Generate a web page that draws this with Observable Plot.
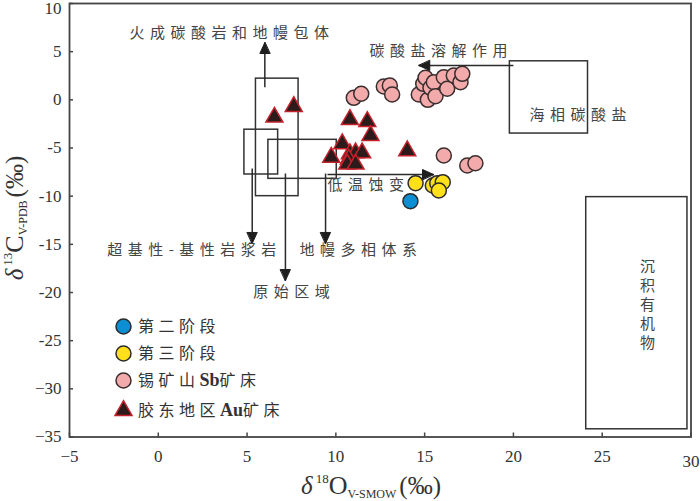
<!DOCTYPE html>
<html><head><meta charset="utf-8">
<script src="https://cdn.jsdelivr.net/npm/d3@7"></script>
<script src="https://cdn.jsdelivr.net/npm/@observablehq/plot@0.6"></script>
<style>body{margin:0;background:#fff} #chart{position:relative;width:700px;height:501px}</style>
</head><body><div id="chart"></div>
<script>
// ---- tick values / labels ----
const xTicks = [-5, 0, 5, 10, 15, 20, 25, 30];
const yTicks = [-35, -30, -25, -20, -15, -10, -5, 0, 5, 10];
const yTickLabels = ["\u221235", "\u221230", "-25", "-20", "-15", "-10", "-5", "0", "5", "10"];

// ---- data series (δ18O, δ13C) ----
const stage2X = [14.20];
const stage2Y = [-10.52];
const stage3X = [14.49, 15.46, 15.71, 16.02, 15.80];
const stage3Y = [-8.65, -8.89, -8.65, -8.55, -9.41];
const sbX = [11.01, 11.43, 12.70, 13.04, 13.17, 14.67, 14.92, 15.05, 15.18, 15.33, 15.52, 15.61, 16.08, 16.27, 16.64, 17.02, 17.12, 16.08, 17.40, 17.86];
const sbY = [0.21, 0.63, 1.38, 1.49, 0.55, 0.55, 1.66, 2.29, 0.00, 1.25, 1.83, 0.38, 2.35, 1.15, 2.53, 1.83, 2.70, -5.78, -6.82, -6.58];
const auX = [6.54, 7.63, 10.79, 11.77, 11.95, 10.36, 9.74, 10.79, 11.11, 11.48, 10.73, 10.64, 11.11, 14.02];
const auY = [-1.80, -0.69, -2.04, -2.25, -3.70, -4.56, -5.96, -5.60, -5.50, -5.50, -6.16, -6.68, -6.68, -5.29];

// ---- source-field boxes ----
const boxes = [
  {name: "火成碳酸岩和地幔包体", x1: 5.5, x2: 7.9, y1: -10.0, y2: 2.2},
  {name: "超基性-基性岩浆岩", x1: 4.85, x2: 6.75, y1: -7.75, y2: -3.1},
  {name: "原始区域/地幔多相体系", x1: 6.2, x2: 10.05, y1: -8.2, y2: -4.15},
  {name: "海相碳酸盐", x1: 19.8, x2: 24.2, y1: -3.5, y2: 4.0},
  {name: "沉积有机物", x1: 24.1, x2: 29.8, y1: -34.2, y2: -10.1}
];
// ---- arrows ----
const arrows = [
  {x1: 6.0, y1: 1.3, x2: 6.0, y2: 5.95},
  {x1: 5.29, y1: -7.13, x2: 5.29, y2: -14.91},
  {x1: 7.16, y1: -7.65, x2: 7.16, y2: -18.76},
  {x1: 9.42, y1: -7.65, x2: 9.42, y2: -14.91},
  {x1: 9.53, y1: -7.75, x2: 15.5, y2: -7.75},
  {x1: 20.0, y1: 3.56, x2: 14.67, y2: 3.56}
];
// ---- annotation labels ----
const labels = [
  {text: "火成碳酸岩和地幔包体", x: -1.62, y: 6.87},
  {text: "碳酸盐溶解作用", x: 11.89, y: 5.07},
  {text: "海相碳酸盐", x: 20.9, y: -1.57},
  {text: "低温蚀变", x: 9.53, y: -8.89},
  {text: "超基性-基性岩浆岩", x: -2.88, y: -15.64},
  {text: "地幔多相体系", x: 7.95, y: -15.64},
  {text: "原始区域", x: 5.35, y: -20.0}
];
const vertLabel = [{text: "沉\n积\n有\n机\n物", x: 27.55, y: -21.2}];

// ---- legend ----
const legendNames = ["第二阶段", "第三阶段", "锡矿山Sb矿床", "胶东地区Au矿床"];
const legendSymbols = ["circle", "circle", "circle", "triangle"];
const legendFills = ["#0b8fd2", "#ffe01a", "#f2aaab", "#2d1b1b"];
const legendStrokes = ["#2b2b2b", "#2b2b2b", "#3a2e2e", "#c4212b"];

const zip = (xs, ys) => xs.map((x, i) => ({x, y: ys[i]}));
const headShape = {draw(ctx, l) { ctx.moveTo(0, -l); ctx.lineTo(-5, 0); ctx.lineTo(5, 0); ctx.closePath(); }};
const rowY = i => 326 + i * 27 + (i === 3 ? 3 : 0);
const SERIF = "Liberation Serif";
const CJK = "Noto Sans CJK SC";

const legendMarks = legendNames.map((n, i) =>
  Plot.dot([n], {x: null, y: null, frameAnchor: "top-left", dx: 54, dy: rowY(i) - 3,
    symbol: legendSymbols[i], r: legendSymbols[i] === "triangle" ? 6.3 : 7.5,
    fill: legendFills[i], stroke: legendStrokes[i], strokeWidth: 1.5})
);

const svg = Plot.plot({
  width: 700, height: 501,
  marginLeft: 69, marginRight: 9.5, marginTop: 3, marginBottom: 64.5,
  x: {domain: [-5, 30]},
  y: {domain: [-35, 10]},
  style: {fontFamily: SERIF, fontSize: "17px", color: "#333", background: "white", overflow: "visible"},
  marks: [
    Plot.rect(boxes, {x1: "x1", x2: "x2", y1: "y1", y2: "y2", fill: "none", stroke: "#333", strokeWidth: 1.5}),
    Plot.link(arrows, {x1: "x1", y1: "y1", x2: "x2", y2: "y2", stroke: "#2a2a2a", strokeWidth: 1.5}),
    Plot.vector(arrows, {x: "x2", y: "y2", length: 11, anchor: "end", shape: headShape,
      rotate: d => d.x2 > d.x1 ? 90 : d.x2 < d.x1 ? -90 : d.y2 > d.y1 ? 0 : 180,
      fill: "#1e1e1e", stroke: "#1e1e1e", strokeWidth: 1}),
    Plot.text(labels, {x: "x", y: "y", text: "text", textAnchor: "start", lineAnchor: "middle",
      fontSize: 15, fill: "#444", fontFamily: CJK}),
    Plot.text(vertLabel, {x: "x", y: "y", text: "text", textAnchor: "middle", lineAnchor: "middle",
      lineHeight: 1.27, fontSize: 15, fill: "#444", fontFamily: CJK}),
    Plot.dot(zip(sbX, sbY), {x: "x", y: "y", r: 7.5, fill: "#f2aaab", stroke: "#3a2e2e", strokeWidth: 1.5}),
    Plot.dot(zip(auX, auY), {x: "x", y: "y", symbol: "triangle", r: 6.3, fill: "#2d1b1b", stroke: "#c4212b", strokeWidth: 1.5}),
    Plot.dot(zip(stage3X, stage3Y), {x: "x", y: "y", r: 7.5, fill: "#ffe01a", stroke: "#2b2b2b", strokeWidth: 1.5}),
    Plot.dot(zip(stage2X, stage2Y), {x: "x", y: "y", r: 7.5, fill: "#0b8fd2", stroke: "#2b2b2b", strokeWidth: 1.5}),
    ...legendMarks,
    Plot.frame({stroke: "#444", strokeWidth: 1.8}),
    Plot.axisX({ticks: xTicks, tickSize: -4, tickPadding: 17, label: null, fontSize: 17, fontFamily: SERIF, fill: "#333", stroke: "#444", strokeWidth: 1.5}),
    Plot.axisY({ticks: yTicks, tickSize: -4, tickPadding: 12, label: null, fontSize: 17, fontFamily: SERIF, fill: "#333", stroke: "#444", strokeWidth: 1.5,
      tickFormat: d => yTickLabels[yTicks.indexOf(d)]})
  ]
});
document.getElementById("chart").appendChild(svg);
const s = d3.select(svg);
// letter spacing for the Chinese annotations (horizontal ones)
s.selectAll('g[aria-label="text"] text').each(function() {
  if (!this.querySelector("tspan")) d3.select(this).attr("letter-spacing", "5.5px");
});
// nudge the clamped edge tick labels like the reference
s.selectAll('g[aria-label="y-axis tick label"] text').filter(function() { return this.textContent === "10"; })
  .attr("transform", function() { return (this.getAttribute("transform") || "") + " translate(0,5)"; });
s.selectAll('g[aria-label="x-axis tick label"] text').filter(function() { return this.textContent === "30"; })
  .attr("transform", function() { return (this.getAttribute("transform") || "") + " translate(0,5)"; });

// legend labels
legendNames.forEach((n, i) => {
  const t = s.append("text").attr("x", 138).attr("y", rowY(i)).attr("dy", "0.35em")
    .attr("text-anchor", "start").attr("font-size", 16).attr("fill", "#333");
  n.split(/([A-Za-z]+)/).filter(p => p).forEach(p => {
    const isLatin = /^[A-Za-z]+$/.test(p);
    t.append("tspan").attr("font-family", isLatin ? SERIF : CJK)
      .attr("font-weight", isLatin ? "bold" : "normal").attr("letter-spacing", isLatin ? "0px" : "4.5px")
      .attr("font-size", isLatin ? 18 : 16).text(p);
  });
});

// axis titles
function axisTitle(g, base, sup, sub) {
  g.attr("font-family", SERIF).attr("fill", "#333").attr("text-anchor", "middle");
  g.append("tspan").attr("font-size", 25).attr("font-style", "italic").text("\u03b4");
  g.append("tspan").attr("font-size", 13).attr("dx", 3).attr("dy", -11).text(sup);
  g.append("tspan").attr("font-size", 26).attr("dy", 11).text(base);
  g.append("tspan").attr("font-size", 12).attr("dy", 4).text(sub);
  g.append("tspan").attr("font-size", 25).attr("dx", 3).attr("dy", -4).text("(\u2030)");
}
axisTitle(s.append("text").attr("x", 371).attr("y", 494), "O", "18", "V-SMOW");
axisTitle(s.append("text").attr("transform", "translate(23,218) rotate(-90)"), "C", "13", "V-PDB");
</script></body></html>
